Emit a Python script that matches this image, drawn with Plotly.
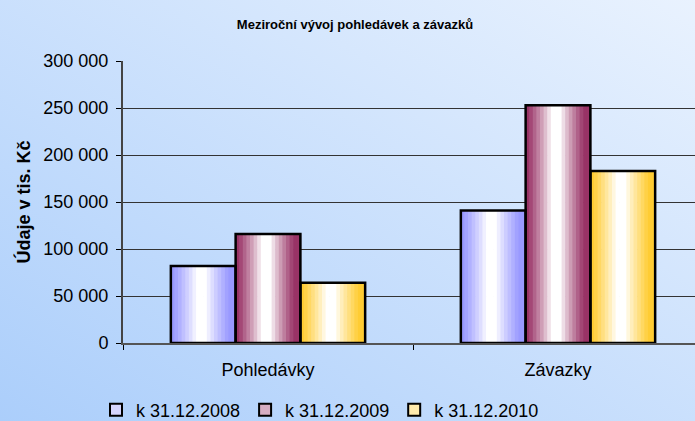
import base64
import plotly.graph_objects as go

categories = ["Pohledávky", "Závazky"]
series_names = ["k 31.12.2008", "k 31.12.2009", "k 31.12.2010"]
values_2008 = [82000, 141000]
values_2009 = [116000, 253000]
values_2010 = [64000, 183000]
series_values = [values_2008, values_2009, values_2010]
edge_colors = [(153, 153, 255), (153, 51, 102), (255, 204, 51)]
y_ticks = [0, 50000, 100000, 150000, 200000, 250000, 300000]

W, H = 695, 421
L, R, T, B = 123, 0, 61, 78
FONT = "Liberation Sans, Arial, sans-serif"

fig = go.Figure()

group_w = 0.67
bar_w = group_w / 3
N = 18


def mix(c, f):
    return "rgb(%d,%d,%d)" % tuple(round(255 + (ci - 255) * f) for ci in c)


for s, (vals, col) in enumerate(zip(series_values, edge_colors)):
    base_off = -group_w / 2 + s * bar_w
    for k in range(N):
        t = (k + 0.5) / N
        d = abs(t - 0.47)
        f = max(0.0, (d - 0.07) / 0.36)
        f = min(1.0, f) ** 0.85
        fig.add_trace(go.Bar(
            x=categories, y=vals,
            width=bar_w / N * 1.2,
            offset=base_off + k * bar_w / N,
            marker=dict(color=mix(col, f), line=dict(width=0)),
            showlegend=False, hoverinfo="skip",
        ))

for s, (vals, col, name) in enumerate(zip(series_values, edge_colors, series_names)):
    base_off = -group_w / 2 + s * bar_w
    fig.add_trace(go.Bar(
        x=categories, y=vals, name=name,
        width=bar_w, offset=base_off,
        marker=dict(color="rgba(255,255,255,0)", line=dict(color="black", width=2.5)),
        showlegend=False,
    ))
    fig.add_trace(go.Bar(
        x=[None], y=[None], name=name,
        marker=dict(color=mix(col, 0.4), line=dict(color="black", width=2)),
        showlegend=True,
    ))

svg = (
    '<svg xmlns="http://www.w3.org/2000/svg" width="%d" height="%d" preserveAspectRatio="none">'
    '<defs><linearGradient id="g" x1="0" y1="1" x2="1" y2="0">'
    '<stop offset="0" stop-color="#abcefb"/>'
    '<stop offset="1" stop-color="#e9f2fe"/>'
    '</linearGradient></defs>'
    '<rect width="100%%" height="100%%" fill="url(#g)"/></svg>' % (W, H)
)
src = "data:image/svg+xml;base64," + base64.b64encode(svg.encode()).decode()

fig.update_layout(
    width=W, height=H,
    margin=dict(l=L, r=R, t=T, b=B, autoexpand=False),
    paper_bgcolor="#cfe3fc",
    plot_bgcolor="rgba(0,0,0,0)",
    barmode="overlay",
    separators=", ",
    font=dict(family=FONT, color="black", size=18),
    images=[dict(source=src, xref="paper", yref="paper", x=-L / (W - L - R), y=1 + T / (H - T - B),
                 sizex=W / (W - L - R), sizey=H / (H - T - B), sizing="stretch",
                 xanchor="left", yanchor="top", layer="below")],
    title=dict(text="<b>Meziroční vývoj pohledávek a závazků</b>",
               font=dict(size=13, family=FONT),
               x=355 / W, xanchor="center", xref="container",
               y=1 - 24 / H, yanchor="middle", yref="container"),
    legend=dict(orientation="h", x=320 / W, xanchor="center", xref="container",
                y=1 - 410 / H, yanchor="middle", yref="container",
                font=dict(size=18), itemwidth=30, traceorder="normal",
                bgcolor="rgba(0,0,0,0)", tracegroupgap=0),
    showlegend=True,
)

fig.update_xaxes(
    type="category", range=[-0.5, -0.5 + (W - L - R) / 290.0],
    showline=True, linecolor="#555", linewidth=2,
    ticks="outside", tickson="boundaries", ticklen=5, tickcolor="black",
    showgrid=False, tickfont=dict(size=18), ticklabelstandoff=9,
)
fig.update_yaxes(
    range=[0, 300000], tickvals=y_ticks, tickformat=",d",
    showline=True, linecolor="#444", linewidth=2,
    ticks="outside", ticklen=5, tickcolor="black",
    showgrid=True, gridcolor="#333", gridwidth=1, zeroline=False,
    tickfont=dict(size=18), ticklabelstandoff=4,
    title=dict(text="<b>Údaje v tis. Kč</b>", font=dict(size=18), standoff=8),
)

fig.write_html("out.html", config={"displayModeBar": False},
               post_script="document.body.style.margin='0';")
